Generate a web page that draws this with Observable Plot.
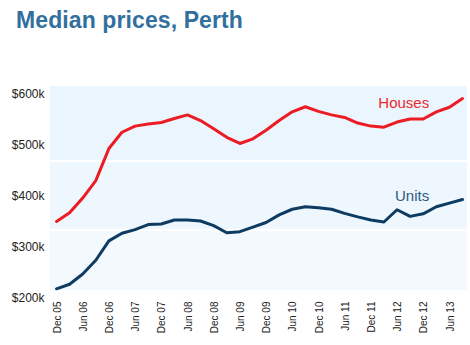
<!DOCTYPE html>
<html>
<head>
<meta charset="utf-8">
<script src="https://cdn.jsdelivr.net/npm/d3@7"></script>
<script src="https://cdn.jsdelivr.net/npm/@observablehq/plot@0.6"></script>
<style>
  html, body { margin: 0; padding: 0; background: #fff; }
  #wrap { position: relative; width: 470px; height: 345px; font-family: "Liberation Sans", Arial, sans-serif; }
  #title { position: absolute; left: 16px; top: 7px; font-size: 23px; font-weight: bold; color: #31709e; letter-spacing: 0.1px; }
  #chart { position: absolute; left: 0; top: 0; }
</style>
</head>
<body>
<div id="wrap">
  <div id="chart"></div>
  <div id="title">Median prices, Perth</div>
</div>
<script>
// Quarterly observations, Dec 2005 – Sep 2013
const quarters = ["Dec 05","Mar 06","Jun 06","Sep 06","Dec 06","Mar 07","Jun 07","Sep 07",
  "Dec 07","Mar 08","Jun 08","Sep 08","Dec 08","Mar 09","Jun 09","Sep 09",
  "Dec 09","Mar 10","Jun 10","Sep 10","Dec 10","Mar 11","Jun 11","Sep 11",
  "Dec 11","Mar 12","Jun 12","Sep 12","Dec 12","Mar 13","Jun 13","Sep 13"];
// Median house price ($k)
const houses = [351,368,397,431,494,526,538,542,545,553,560,549,533,516,504,513,
  530,549,566,576,567,560,555,544,538,536,546,552,552,566,575,592];
// Median unit price ($k)
const units = [219,228,248,275,313,328,335,345,346,354,354,352,343,329,331,340,
  349,364,375,380,378,375,367,360,354,350,374,361,366,380,387,394];
// Axis ticks
const yTicks = [200000, 300000, 400000, 500000, 600000];
const xTickLabels = ["Dec 05","Jun 06","Dec 06","Jun 07","Dec 07","Jun 08","Dec 08","Jun 09",
  "Dec 09","Jun 10","Dec 10","Jun 11","Dec 11","Jun 12","Dec 12","Jun 13"];
// Background band limits ($)
const bandHigh = [615700, 466700, 331400];
const bandLow  = [470600, 335300, 215700];
const bandFill = ["#eaf5fd", "#eef7fd", "#f4f9fe"];
// Series names
const seriesNames = ["Houses", "Units"];

const rows = [];
quarters.forEach((q, i) => {
  rows.push({i, q, series: "Houses", value: houses[i] * 1000});
  rows.push({i, q, series: "Units", value: units[i] * 1000});
});
const bands = bandHigh.map((h, k) => ({hi: h, lo: bandLow[k], k}));
const colors = {Houses: "#ec1c24", Units: "#0d3b62"};
const labelColors = {Houses: "#ea2a2f", Units: "#2b5a85"};
const labelIdx = 28;
const labels = seriesNames.map(s => ({
  series: s, i: labelIdx,
  value: (s === "Houses" ? houses : units)[labelIdx] * 1000
}));

const xTickIdx = xTickLabels.map(l => quarters.indexOf(l));

const chart = Plot.plot({
  width: 470,
  height: 345,
  marginLeft: 50,
  marginRight: 3,
  marginTop: 94,
  marginBottom: 47,
  style: {fontFamily: "'Liberation Sans', Arial, sans-serif", color: "#222", background: "transparent"},
  x: {domain: [0, quarters.length - 1], insetLeft: 6, insetRight: 5, axis: null},
  y: {domain: [200000, 600000], axis: null},
  marks: [
    Plot.rect(bands, {y1: "lo", y2: "hi", fill: d => bandFill[d.k]}),
    Plot.axisY(yTicks, {tickSize: 0, tickPadding: 6, fontSize: 12, tickFormat: d => "$" + d / 1000 + "k", label: null}),
    Plot.axisX(xTickIdx, {tickSize: 0, tickPadding: 3, fontSize: 10, tickRotate: -90, dx: 1,
      tickFormat: d => quarters[d], label: null}),
    Plot.line(rows, {x: "i", y: "value", z: "series", stroke: d => colors[d.series],
      strokeWidth: 3, strokeLinejoin: "round", strokeLinecap: "round"}),
    Plot.text(labels, {x: "i", y: "value", text: "series", fill: d => labelColors[d.series],
      textAnchor: "end", fontSize: 15, dx: 6, dy: -16,
      filter: d => d.series === "Houses"}),
    Plot.text(labels, {x: "i", y: "value", text: "series", fill: d => labelColors[d.series],
      textAnchor: "end", fontSize: 15, dx: 6, dy: -18,
      filter: d => d.series === "Units"})
  ]
});
document.getElementById("chart").appendChild(chart);
</script>
</body>
</html>
